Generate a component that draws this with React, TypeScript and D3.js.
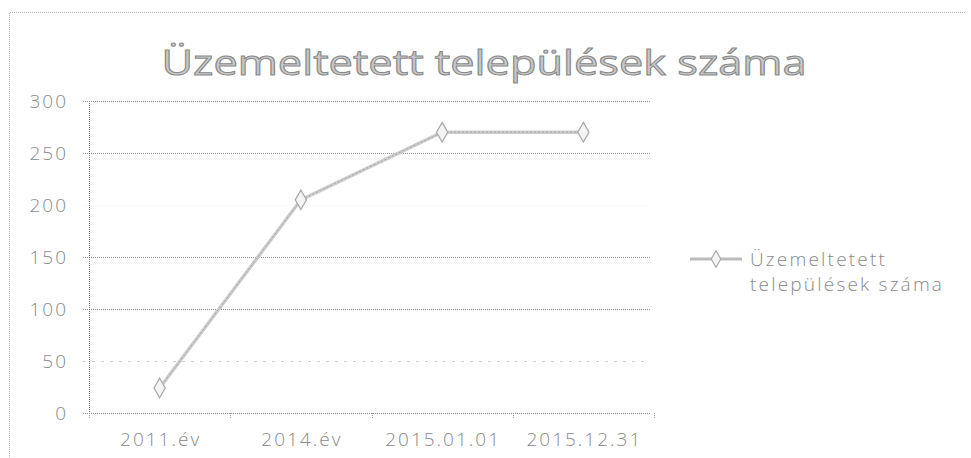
import React, { useEffect, useRef } from 'react';
import * as d3 from 'd3';

const categories = ['2011.év', '2014.év', '2015.01.01', '2015.12.31'];
const values = [24, 205, 270, 270];
const yTicks = [0, 50, 100, 150, 200, 250, 300];
const seriesName = ['Üzemeltetett', 'települések száma'];
const title = 'Üzemeltetett települések száma';

export default function App() {
  const ref = useRef<SVGSVGElement>(null);

  useEffect(() => {
    if (!ref.current) return;
    const svg = d3.select(ref.current);
    svg.selectAll('*').remove();

    const height = 458;
    const left = 89, right = 654, top = 101, bottom = 413;
    const font = "'Open Sans', 'DejaVu Sans', sans-serif";
    const textCol = '#8a8a8a';

    // frame (scanned, only top/left edges visible)
    svg.append('path')
      .attr('d', `M9.5,${height} L9.5,12.5 L966,12.5`)
      .attr('fill', 'none')
      .attr('stroke', '#bbb')
      .attr('stroke-dasharray', '1,1');

    svg.append('text')
      .attr('x', 484).attr('y', 75)
      .attr('text-anchor', 'middle')
      .attr('font-family', font)
      .attr('font-size', 35)
      .attr('textLength', 645)
      .attr('lengthAdjust', 'spacingAndGlyphs')
      .attr('fill', '#c8c8c8')
      .attr('stroke', '#8a8a8a')
      .attr('stroke-width', 1)
      .text(title);

    const x = d3.scaleBand<string>().domain(categories).range([left, right]);
    const y = d3.scaleLinear().domain([0, 300]).range([bottom, top]);

    // gridlines
    svg.append('g').selectAll('line')
      .data(yTicks)
      .join('line')
      .attr('x1', left - 6).attr('x2', right - 4)
      .attr('y1', d => Math.round(y(d)) + 0.5).attr('y2', d => Math.round(y(d)) + 0.5)
      .attr('stroke', '#777')
      .attr('stroke-opacity', d => (d === 200 ? 0.08 : d === 50 ? 0.35 : 0.8))
      .attr('stroke-dasharray', d => (d === 50 ? '3,6' : '1,1'));

    // y axis line
    svg.append('line')
      .attr('x1', left + 0.5).attr('x2', left + 0.5)
      .attr('y1', top).attr('y2', bottom + 4)
      .attr('stroke', '#777')
      .attr('stroke-dasharray', '1,1');

    // x ticks
    const tickXs = categories.map(c => x(c)!).concat([right]);
    svg.append('g').selectAll('line')
      .data(tickXs)
      .join('line')
      .attr('x1', d => Math.round(d) + 0.5).attr('x2', d => Math.round(d) + 0.5)
      .attr('y1', bottom).attr('y2', bottom + 5)
      .attr('stroke', '#999')
      .attr('stroke-dasharray', '1,1');

    // y labels
    svg.append('g').selectAll('text')
      .data(yTicks)
      .join('text')
      .attr('x', 68).attr('y', d => y(d) + 7)
      .attr('text-anchor', 'end')
      .attr('font-family', font)
      .attr('font-size', 19)
      .attr('font-weight', 300)
      .attr('letter-spacing', 2)
      .attr('fill', textCol)
      .text(d => d);

    // x labels
    svg.append('g').selectAll('text')
      .data(categories)
      .join('text')
      .attr('x', d => x(d)! + x.bandwidth() / 2 + 1).attr('y', 446)
      .attr('text-anchor', 'middle')
      .attr('font-family', font)
      .attr('font-size', 19)
      .attr('font-weight', 300)
      .attr('letter-spacing', 2)
      .attr('fill', textCol)
      .text(d => d);

    const pts = categories.map((c, i) => [x(c)! + x.bandwidth() / 2, y(values[i])] as [number, number]);
    const line = d3.line();

    svg.append('path')
      .attr('d', line(pts))
      .attr('fill', 'none')
      .attr('stroke', '#cdcdcd')
      .attr('stroke-width', 3.5);
    svg.append('path')
      .attr('d', line(pts))
      .attr('fill', 'none')
      .attr('stroke', '#a5a5a5')
      .attr('stroke-width', 1)
      .attr('stroke-dasharray', '2,2');

    const diamond = d3.symbol().type(d3.symbolDiamond).size(110);
    svg.append('g').selectAll('path')
      .data(pts)
      .join('path')
      .attr('transform', d => `translate(${d[0]},${d[1]})`)
      .attr('d', diamond)
      .attr('fill', '#f4f4f4')
      .attr('stroke', '#aaa')
      .attr('stroke-width', 1.3);

    // legend
    const ly = 259;
    svg.append('line')
      .attr('x1', 690).attr('x2', 742)
      .attr('y1', ly).attr('y2', ly)
      .attr('stroke', '#bbb')
      .attr('stroke-width', 3);
    svg.append('path')
      .attr('transform', `translate(716,${ly})`)
      .attr('d', d3.symbol().type(d3.symbolDiamond).size(80))
      .attr('fill', '#f4f4f4')
      .attr('stroke', '#aaa')
      .attr('stroke-width', 1.2);
    svg.append('g').selectAll('text')
      .data(seriesName)
      .join('text')
      .attr('x', 750).attr('y', (d, i) => ly + 7 + i * 25)
      .attr('font-family', font)
      .attr('font-size', 19)
      .attr('font-weight', 300)
      .attr('letter-spacing', 2.2)
      .attr('fill', textCol)
      .text(d => d);
  }, []);

  return (
    <svg ref={ref} width={971} height={458}
      style={{ position: 'absolute', left: 0, top: 0, background: '#fff' }} />
  );
}
